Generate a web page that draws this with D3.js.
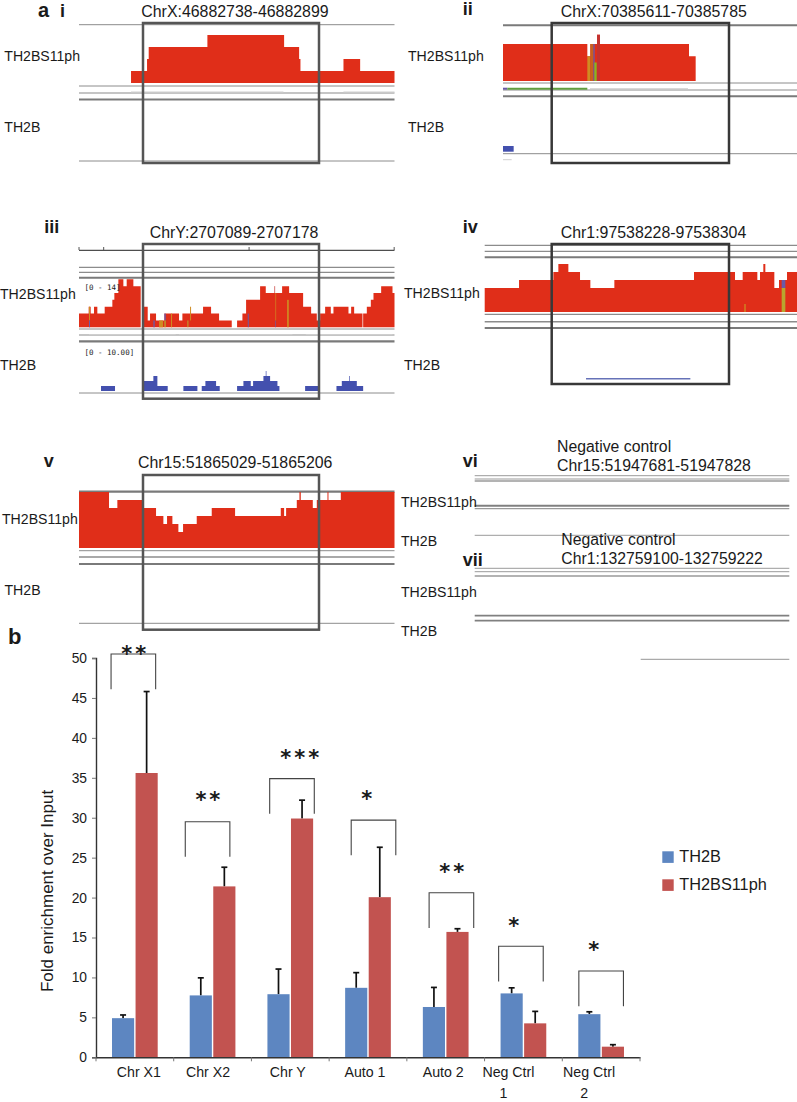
<!DOCTYPE html>
<html><head><meta charset="utf-8">
<style>html,body{margin:0;padding:0;background:#fff}svg{display:block}text{font-family:"Liberation Sans",Arial,sans-serif;fill:#1a1a1a}</style>
<script src="https://cdnjs.cloudflare.com/ajax/libs/d3/7.8.5/d3.min.js"></script>
</head><body><svg id="c" width="797" height="1102"></svg>
<script>
// ---------- bar chart data ----------
const categories = ["Chr X1","Chr X2","Chr Y","Auto 1","Auto 2","Neg Ctrl 1","Neg Ctrl 2"];
const seriesNames = ["TH2B","TH2BS11ph"];
const th2b      = [4.9, 7.75, 7.9, 8.7, 6.3, 8.0, 5.4];
const th2bError = [5.3, 9.95, 11.05, 10.6, 8.75, 8.7, 5.7];
const phos      = [35.6, 21.4, 29.9, 20.05, 15.7, 4.25, 1.33];
const phosError = [45.8, 23.8, 32.2, 26.3, 16.1, 5.75, 1.58];
const yTicks = [0,5,10,15,20,25,30,35,40,45,50];
const significance = ["**","**","***","*","**","*","*"];
const bracketTop = [50.5, 29.5, 34.9, 29.7, 20.6, 13.9, 10.8];
// ---------- coverage tracks: [relative position, reads] ----------
const redI = [[156,1],[204,2],[209,3],[385,4],[615,3],[660,2],[664,1],[793,2],[843,1],[946,0]];
const redII = [[0,3],[253,2],[262,3],[282,3.75],[291,3],[558,2],[578,0]];
const redIII = [[0,4],[29,6],[35,4],[45,6],[55,4],[77,6],[100,8],[106,10],[118,14],[133,12],[143,14],[163,12],[185,0],[193,6],[206,2],[213,4],[231,2],[256,4],[300,2],[310,4],[372,6],[396,4],[420,2],[458,0],[474,2],[490,4],[501,8],[543,12],[560,10],[609,12],[630,10],[672,6],[696,4],[713,2],[723,4],[738,6],[755,4],[763,6],[808,4],[816,6],[825,4],[850,0],[852,4],[863,6],[875,8],[883,10],[906,12],[940,10],[946,0]];
const redIV = [[0,3],[103,4],[206,5],[221,6],[251,5],[286,4],[317,3],[389,4],[628,5],[751,4],[774,5],[818,4],[826,5],[836,6],[842,5],[869,3],[883,4],[907,5],[937,0]];
const redV = [[0,7],[90,5],[115,6],[193,5],[231,4],[253,3],[264,4],[280,3],[298,2],[312,3],[353,4],[398,5],[468,4],[605,5],[615,4],[621,5],[653,6],[661,7],[665,6],[701,5],[713,6],[745,7],[748,6],[785,7],[946,0]];
const blueII = [[0,1],[32,0]];
const blueIII = [[66,1],[108,0],[193,2],[223,3],[235,1],[266,0],[313,1],[355,0],[368,1],[379,2],[411,1],[422,0],[474,1],[493,2],[515,1],[522,2],[553,3],[560,4],[562,3],[573,2],[595,1],[601,0],[678,1],[718,0],[772,1],[788,2],[810,3],[812,2],[833,1],[852,0]];
const blueIV = [[304,1],[617,0]];
// mismatch columns: [position, width, from reads, to reads, base]
const misII = [[253,9,0,2,"G"],[262,9,0,3,"M"],[271,4,0,3,"C"],[274,7,0,1.5,"A"],[282,9,0,3.75,"T"]];
const misIII = [[30,3,2,6,"G"],[30,3,0,2,"C"],[223,4,0,2,"C"],[240,12,0,2,"G"],[256,4,2,4,"C"],[256,4,0,2,"N"],[276,3,0,4,"G"],[333,3,2,6,"G"],[325,3,0,2,"N"],[506,3,0,4,"C"],[588,2,0,2,"C"],[589,2,2,10,"G"],[586,2,10,12,"T"],[624,5,0,8,"G"]];
const misIV = [[891,11,3,4,"C"],[891,11,0,3,"N"],[779,4,0,1,"G"]];
const baseColour = {A:"#86b522",C:"#6a5aa8",G:"#cf8b22",T:"#c4322f",N:"#b9a52e",M:"#c9601f"};
// read strips: [from, to, kind]
const stripI = [[156,613,"R"],[793,946,"R"]];
const stripII = [[0,13,"C"],[13,253,"g"],[261,555,"R"]];
const stripIII = [[30,290,"R"],[300,640,"R"],[680,940,"R"]];
const stripIILow = [[0,26,"R"]];
const stripColour = {R:"#cfcfcf",g:"#5f9e3f",C:"#6a5aa8"};
// ---------- layout ----------
const panels = [
 {x:[79,394.5],w:946,box:[143,23,319,163],boxC:"#555",lines:[[24.7,1],[86,1],[93,1.2],[99.5,2],[161,1]],red:redI,redBase:83,redU:12,strips:[[stripI,92]]},
 {x:[503,797],w:882,box:[551.7,23,729,163],boxC:"#383838",lines:[[25.3,2],[83,1],[90,1],[96.3,2],[153.7,1]],red:redII,redBase:81,redU:12.33,mis:misII,strips:[[stripII,88.7],[stripIILow,159.7]],blue:blueII,blueBase:151.7,blueU:5.7},
 {x:[79,394.5],w:946,box:[143,244,319,398.7],boxC:"#555",lines:[[267.3,1.2],[272.3,1.2],[277.7,2],[329,1.2],[335,1.2],[341.3,2.2],[393,1]],red:redIII,redBase:327.3,redU:3.43,mis:misIII,strips:[[stripIII,334.5]],blue:blueIII,blueBase:391,blueU:5},
 {x:[484.7,797],w:937,box:[551.7,244,729,384],boxC:"#383838",lines:[[245.3,1.2],[251.3,1.2],[257.3,2],[314.3,1.2],[321.7,1.5],[328,2]],red:redIV,redBase:312,redU:8,mis:misIV,blue:blueIV,blueBase:379.5,blueU:1.6,blueC:"#6672b8"},
 {x:[79,394.5],w:946,box:[143,475,319,629.7],boxC:"#555",lines:[[491.7,2.2],[550.7,1],[557,1.5],[564,2.2],[623.3,1]],red:redV,redBase:548,redU:8}
];
const negLines = [[475.7,1],[479,1],[481,1.5],[505.7,2],[508.7,1.2],[535.3,1],[568.3,1],[571.7,1],[576,1.5],[615.7,1.8],[620.7,1.8]];
const labels = [
 ["a",38,16.7,20,1],["i",60,16.7,18,1],["ChrX:46882738-46882899",141.3,16.7,15.9],["TH2BS11ph",4.3,61,14.1],["TH2B",4.3,131.7,14.1],
 ["ii",462.7,15,18,1],["ChrX:70385611-70385785",560.7,16.7,15.9],["TH2BS11ph",408,61,14.1],["TH2B",408,131.7,14.1],
 ["iii",44.3,232.7,18,1],["ChrY:2707089-2707178",149.7,238.3,15.9],["TH2BS11ph",0,298.7,14.1],["TH2B",0,370,14.1],
 ["iv",462.7,232.7,18,1],["Chr1:97538228-97538304",560.7,238.3,15.9],["TH2BS11ph",404,298.3,14.1],["TH2B",404,370,14.1],
 ["v",43.7,466.7,18,1],["Chr15:51865029-51865206",138,468.3,15.9],["TH2BS11ph",2,524,14.1],["TH2B",4.5,595.3,14.1],
 ["vi",462.7,467.3,18,1],["Negative control",557,452,15.8],["Chr15:51947681-51947828",557,470.7,15.85],["TH2BS11ph",401,507.3,14.1],["TH2B",401,546,14.1],
 ["vii",462.7,565.7,18,1],["Negative control",561.3,545,15.8],["Chr1:132759100-132759222",561.3,564,15.75],["TH2BS11ph",401,596.7,14.1],["TH2B",401,635.7,14.1],
 ["b",8,644.3,22,1]
];
const labelShift = [4,-4.5,-2.5,-3,-2.5,-15,-12];
const bracketShift = [-1.5,-5,1.7,5.5,5.7,-2.5,0];
const starShift = [-1,-4.7,9.5,-1.3,6,-9.7,-7.5];
const starY = [650,796,754,794.7,868,922,946];
const bracketDrop = 4.4;

const svg = d3.select("#c");
// ---------- tracks ----------
panels.forEach(p=>{
  const g = svg.append("g");
  const x = d3.scaleLinear().domain([0,p.w]).range(p.x);
  const track = (data,base,u,col)=>{
    const y = d3.scaleLinear().domain([0,1]).range([base,base-u]);
    g.append("path").attr("fill",col)
     .attr("d",d3.area().curve(d3.curveStepAfter).x(d=>x(d[0])).y0(y(0)).y1(d=>y(d[1]))(data));
    return y;
  };
  g.selectAll("line.t").data(p.lines).join("line").attr("x1",p.x[0]).attr("x2",p.x[1])
   .attr("y1",d=>d[0]).attr("y2",d=>d[0]).attr("stroke",d=>d[1]>1.5?"#7a7a7a":"#8c8c8c").attr("stroke-width",d=>d[1]);
  const yr = track(p.red,p.redBase,p.redU,"#e02e19");
  if(p.mis) g.selectAll("rect.m").data(p.mis).join("rect")
    .attr("x",d=>x(d[0])).attr("width",d=>x(d[1])-x(0)).attr("y",d=>yr(d[3])).attr("height",d=>yr(d[2])-yr(d[3]))
    .attr("fill",d=>baseColour[d[4]]);
  (p.strips||[]).forEach(([s,yy])=>{
    g.selectAll(null).data(s).join("line").attr("x1",d=>x(d[0])).attr("x2",d=>x(d[1])).attr("y1",yy).attr("y2",yy)
     .attr("stroke",d=>stripColour[d[2]]).attr("stroke-width",d=>d[2]==="R"?1:2);
  });
  if(p.blue) track(p.blue,p.blueBase,p.blueU,p.blueC||"#4350ae");
});
// ruler of panel iii
const rulerX = d3.scaleLinear().domain([0,946]).range([79,394.5]);
const rulerTicks = [0,74,510,945];
svg.append("line").attr("x1",79).attr("x2",394.5).attr("y1",250.3).attr("y2",250.3).attr("stroke","#222").attr("stroke-width",1);
svg.selectAll(null).data(rulerTicks).join("line").attr("x1",d=>rulerX(d)).attr("x2",d=>rulerX(d)).attr("y1",247).attr("y2",250).attr("stroke","#555");
[["[0 - 14]",84.5,290],["[0 - 10.00]",84.5,354.5]].forEach(d=>
  svg.append("text").attr("x",d[1]).attr("y",d[2]).attr("font-size",7.5).style("font-family","'DejaVu Sans Mono',monospace").text(d[0]));
// boxes on top of tracks
panels.forEach(p=>{
  const [a,b,c,d]=p.box;
  svg.append("rect").attr("x",a).attr("y",b).attr("width",c-a).attr("height",d-b).attr("fill","none").attr("stroke",p.boxC).attr("stroke-width",2.5);
});
// negative control lines
svg.selectAll(null).data(negLines).join("line").attr("x1",474.7).attr("x2",789.3).attr("y1",d=>d[0]).attr("y2",d=>d[0])
   .attr("stroke",d=>d[1]>1.5?"#808080":"#9a9a9a").attr("stroke-width",d=>d[1]);
svg.append("line").attr("x1",640.7).attr("x2",789.3).attr("y1",659.3).attr("y2",659.3).attr("stroke","#aaa").attr("stroke-width",1.2);
// labels
svg.selectAll(null).data(labels).join("text").attr("x",d=>d[1]).attr("y",d=>d[2]).attr("font-size",d=>d[3])
   .attr("font-weight",d=>d[4]?"bold":"normal").text(d=>d[0]);

// ---------- bar chart ----------
const xB = d3.scaleBand().domain(categories).range([96,640]);
const xS = d3.scaleBand().domain(seriesNames).range([16,61.7]).paddingInner(0.06);
const yS = d3.scaleLinear().domain([0,50]).range([1057.3,658]);
const colour = d3.scaleOrdinal().domain(seriesNames).range(["#5d86c1","#c25350"]);
const rows = categories.flatMap((c,i)=>[
  {c,s:seriesNames[0],v:th2b[i],e:th2bError[i]},
  {c,s:seriesNames[1],v:phos[i],e:phosError[i]}]);
const bars = svg.append("g");
const centre = d=>xB(d.c)+xS(d.s)+xS.bandwidth()/2;
bars.selectAll("line").data(rows).join("line").attr("x1",centre).attr("x2",centre)
  .attr("y1",d=>yS(d.v)).attr("y2",d=>yS(d.e)).attr("stroke","#111").attr("stroke-width",1.7);
bars.selectAll("path").data(rows).join("path")
  .attr("d",d=>`M${centre(d)-3},${yS(d.e)}H${centre(d)+3}`).attr("stroke","#111").attr("stroke-width",1.7);
bars.selectAll("rect").data(rows).join("rect").attr("x",d=>xB(d.c)+xS(d.s)).attr("width",xS.bandwidth())
  .attr("y",d=>yS(d.v)).attr("height",d=>yS(0)-yS(d.v)).attr("fill",d=>colour(d.s));
// y axis
const ya = svg.append("g").attr("transform","translate(96,0)").call(d3.axisLeft(yS).tickValues(yTicks).tickSize(4).tickPadding(5));
ya.selectAll("text").attr("font-size",13.8).style("font-family","'Liberation Sans'").attr("fill","#1a1a1a");
ya.selectAll(".tick line").attr("stroke","#777");
ya.select(".domain").attr("stroke","#333").attr("stroke-width",1.4);
// x axis: ticks sit on band edges
const xa = svg.append("g").attr("transform",`translate(0,${yS(0)})`).call(d3.axisBottom(xB).tickSize(0).tickFormat(""));
xa.select(".domain").attr("stroke","#333").attr("stroke-width",1.6);
const edges = categories.map(c=>xB(c)).concat([xB.range()[1]]);
xa.selectAll("line.edge").data(edges).join("line").attr("class","edge").attr("x1",d=>d).attr("x2",d=>d).attr("y1",0).attr("y2",4).attr("stroke","#777");
const xLab = svg.append("g").attr("font-size",14.2).attr("text-anchor","middle");
categories.forEach((c,i)=>{
  const m = c.match(/^(Neg Ctrl) (\d)$/);
  const cx = xB(c)+xB.bandwidth()/2+labelShift[i];
  xLab.append("text").attr("x",cx).attr("y",1076.7).text(m?m[1]:c);
  if(m) xLab.append("text").attr("x",cx-5).attr("y",1097.7).text(m[2]);
});
svg.append("text").attr("transform","translate(52.7,891) rotate(-90)").attr("text-anchor","middle").attr("font-size",17).text("Fold enrichment over Input");
// brackets and stars
categories.forEach((c,i)=>{
  const cx = xB(c)+xB.bandwidth()/2;
  const bx = cx+bracketShift[i], t = yS(bracketTop[i]), b = yS(bracketTop[i]-bracketDrop);
  svg.append("path").attr("fill","none").attr("stroke","#444").attr("stroke-width",1.1)
    .attr("d",d3.line()([[bx-22.3,b],[bx-22.3,t],[bx+22.3,t],[bx+22.3,b]]));
  svg.append("text").attr("x",cx+starShift[i]+1.5).attr("y",starY[i]+11).attr("text-anchor","middle")
    .attr("font-size",21).attr("font-weight","bold").attr("letter-spacing",3).style("font-family","'DejaVu Sans'").text(significance[i]);
});
// legend
const lg = svg.append("g").selectAll("g").data(seriesNames).join("g").attr("transform",(d,i)=>`translate(662.3,${851.3+i*28})`);
lg.append("rect").attr("width",11.4).attr("height",11.6).attr("fill",d=>colour(d));
lg.append("text").attr("x",17).attr("y",10.4).attr("font-size",16.3).text(d=>d);
</script></body></html>
